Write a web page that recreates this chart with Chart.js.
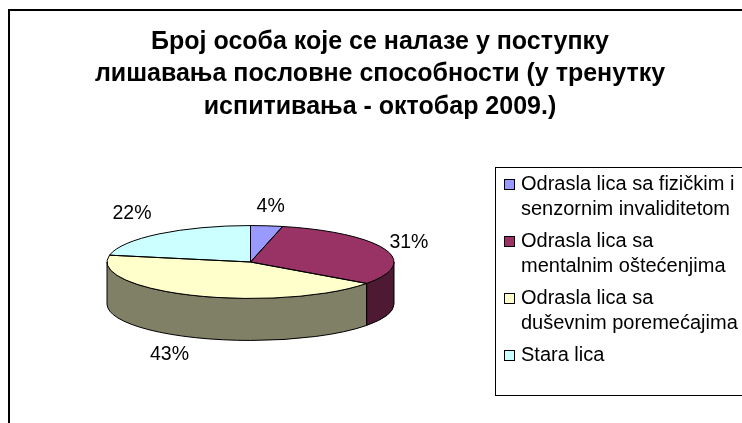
<!DOCTYPE html>
<html>
<head>
<meta charset="utf-8">
<title>Број особа</title>
<style>
    html, body { margin: 0; padding: 0; background: #fff; overflow: hidden; }
    canvas { display: block; }
</style>
<script src="https://cdn.jsdelivr.net/npm/chart.js@4/dist/chart.umd.min.js"></script>
</head>
<body>
<canvas id="myChart" width="742" height="423"></canvas>
<script>
var categories = ['Odrasla lica sa fizičkim i senzornim invaliditetom', 'Odrasla lica sa mentalnim oštećenjima', 'Odrasla lica sa duševnim poremećajima', 'Stara lica'];
var values = [3.6, 31.4, 43, 22];
var legendLines = [['Odrasla lica sa fizičkim i', 'senzornim invaliditetom'], ['Odrasla lica sa', 'mentalnim oštećenjima'], ['Odrasla lica sa', 'duševnim poremećajima'], ['Stara lica']];
var titleLines = ['Број особа које се налазе у поступку', 'лишавања пословне способности (у тренутку', 'испитивања - октобар 2009.)'];
var colors = ['#9999FF', '#993366', '#FFFFCC', '#CCFFFF'];
var wallColors = ['#4D4D80', '#4D1933', '#808066', '#668080'];

var FONT = '"Liberation Sans", Arial, sans-serif';
var SQUASH = 0.254;   // flattens the pie into an ellipse
var DEPTH = 42;
// label position relative to the rim point of each slice
var labelOffsets = [[4, -19], [24, -7], [-24, 17], [-27, -20]];

function squash(ctx, arc) {
    ctx.translate(arc.x, arc.y);
    ctx.scale(1, SQUASH);
    ctx.translate(-arc.x, -arc.y);
}

function slicePath(ctx, arc) {
    ctx.beginPath();
    ctx.moveTo(arc.x, arc.y);
    ctx.ellipse(arc.x, arc.y, arc.outerRadius, arc.outerRadius * SQUASH, 0, arc.startAngle, arc.endAngle);
    ctx.closePath();
}

var pie3d = {
    id: 'pie3d',
    afterLayout: function (chart) {
        // title is centred on the original chart frame, not on the pie
        chart.titleBlock.left = 8;
        chart.titleBlock.right = 752;
    },
    beforeDraw: function (chart) {
        var ctx = chart.ctx;
        ctx.save();
        ctx.strokeStyle = '#000';
        ctx.lineWidth = 2;
        ctx.beginPath();
        ctx.moveTo(9, 423);
        ctx.lineTo(9, 10);
        ctx.lineTo(742, 10);
        ctx.stroke();
        ctx.restore();
    },
    beforeDatasetsDraw: function (chart) {
        // side wall, only the front half of the ellipse shows
        var ctx = chart.ctx;
        var arcs = chart.getDatasetMeta(0).data;
        ctx.save();
        ctx.strokeStyle = '#000';
        ctx.lineWidth = 1;
        arcs.forEach(function (arc, i) {
            var a = Math.max(arc.startAngle, 0);
            var b = Math.min(arc.endAngle, Math.PI);
            if (b <= a) return;
            ctx.beginPath();
            ctx.ellipse(arc.x, arc.y, arc.outerRadius, arc.outerRadius * SQUASH, 0, a, b);
            ctx.ellipse(arc.x, arc.y + DEPTH, arc.outerRadius, arc.outerRadius * SQUASH, 0, b, a, true);
            ctx.closePath();
            ctx.fillStyle = wallColors[i];
            ctx.fill();
            ctx.stroke();
        });
        ctx.restore();
    },
    beforeDatasetDraw: function (chart) {
        var ctx = chart.ctx;
        ctx.save();
        squash(ctx, chart.getDatasetMeta(0).data[0]);
    },
    afterDatasetDraw: function (chart) {
        var ctx = chart.ctx;
        ctx.restore();
        var arcs = chart.getDatasetMeta(0).data;
        var total = values.reduce(function (s, v) { return s + v; }, 0);
        ctx.save();
        ctx.strokeStyle = '#000';
        ctx.lineWidth = 1;
        arcs.forEach(function (arc) {
            slicePath(ctx, arc);
            ctx.stroke();
        });
        ctx.fillStyle = '#000';
        ctx.font = '19.5px ' + FONT;
        ctx.textAlign = 'center';
        ctx.textBaseline = 'middle';
        arcs.forEach(function (arc, i) {
            var mid = (arc.startAngle + arc.endAngle) / 2;
            var x = arc.x + Math.cos(mid) * arc.outerRadius;
            var y = arc.y + Math.sin(mid) * arc.outerRadius * SQUASH;
            if (Math.sin(mid) > 0) y += DEPTH;
            ctx.fillText(Math.round(values[i] / total * 100) + '%', x + labelOffsets[i][0], y + labelOffsets[i][1]);
        });
        ctx.restore();
    },
    afterDraw: function (chart) {
        // legend box runs off the right edge like in the original
        var ctx = chart.ctx;
        ctx.save();
        ctx.strokeStyle = '#000';
        ctx.lineWidth = 1;
        ctx.strokeRect(495.5, 167.5, 260, 228);
        ctx.font = '20px ' + FONT;
        ctx.textAlign = 'left';
        ctx.textBaseline = 'middle';
        var y = 184;
        legendLines.forEach(function (lines, i) {
            ctx.fillStyle = colors[i];
            ctx.fillRect(504.5, y - 4.5, 10, 10);
            ctx.strokeRect(504.5, y - 4.5, 10, 10);
            ctx.fillStyle = '#000';
            lines.forEach(function (line, j) {
                ctx.fillText(line, 521, y + j * 25);
            });
            y += 57;
        });
        ctx.restore();
    }
};

var ctx = document.getElementById('myChart').getContext('2d');
var myChart = new Chart(ctx, {
    type: 'pie',
    plugins: [pie3d],
    data: {
        labels: categories,
        datasets: [{
            data: values,
            backgroundColor: colors,
            borderWidth: 0,
            clip: false
        }]
    },
    options: {
        responsive: false,
        animation: false,
        layout: { padding: { left: 107, right: 348, top: 0, bottom: 17.5 } },
        plugins: {
            legend: { display: false },
            tooltip: { enabled: false },
            title: {
                display: true,
                text: titleLines,
                color: '#000',
                font: { family: FONT, size: 25, weight: 'bold', lineHeight: 1.3 },
                padding: { top: 25.5, bottom: -4.5 }
            }
        }
    }
});
</script>
</body>
</html>
